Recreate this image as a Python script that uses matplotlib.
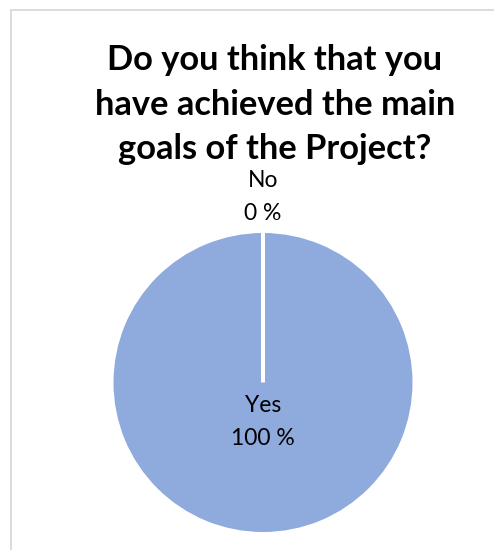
import matplotlib
matplotlib.use("Agg")
import matplotlib.pyplot as plt
from matplotlib.patches import Rectangle
from matplotlib.transforms import ScaledTranslation
import numpy as np

# Survey answers
categories = ["No", "Yes"]
percentages = [0, 100]
title_lines = ["Do you think that you", "have achieved the main", "goals of the Project?"]

W, H = 494, 550
DPI = 100
FONT = "Lato"

fig = plt.figure(figsize=(W / DPI, H / DPI), dpi=DPI)
fig.patch.set_facecolor("white")
renderer = fig.canvas.get_renderer()


def px(x, y):
    """Pixel coordinates (origin top-left) -> figure fraction."""
    return x / W, 1 - y / H


def fit_size(text, width_px, weight="normal", start=20.0):
    t = fig.text(0, 0, text, fontsize=start, family=FONT, weight=weight)
    w = t.get_window_extent(renderer).width
    t.remove()
    return start * width_px / w


# Chart-area frame (runs off the right and bottom edges)
fig.add_artist(Rectangle(px(11, 560), (W + 20) / W, (560 - 10) / H,
                         transform=fig.transFigure, fill=False,
                         edgecolor="#D9D9D9", linewidth=1.3))

# Title
tsize = fit_size(title_lines[1], 360, weight="bold")
for line, base in zip(title_lines, [70, 115, 159]):
    fig.text(*px(275, base), line, ha="center", va="baseline",
             fontsize=tsize, family=FONT, weight="bold", color="black")

# Pie
cx, cy, r = 263, 382.5, 149.5
ax = fig.add_axes([(cx - r) / W, (H - cy - r) / H, 2 * r / W, 2 * r / H])

lw_px = 4
wedges, _ = ax.pie(percentages[::-1], startangle=90, counterclock=False,
                   colors=["#8FAADC", "#8FAADC"], radius=1 + (lw_px / 2) / r,
                   wedgeprops=dict(edgecolor="white", linewidth=lw_px * 72 / DPI))
ax.set_xlim(-1, 1)
ax.set_ylim(-1, 1)
ax.set_aspect("equal")
ax.axis("off")

# Data labels: category name above, percentage below
lsize = 16.5
half_gap = 16.5 / DPI  # inches between anchor and each baseline
label_dist = {"Yes": 0.31, "No": 1.194}
for wdg, cat, val in zip(wedges, categories[::-1], percentages[::-1]):
    ang = np.deg2rad((wdg.theta1 + wdg.theta2) / 2)
    d = label_dist[cat]
    x, y = d * np.cos(ang), d * np.sin(ang)
    for txt, dy in ((cat, half_gap), (f"{val} %", -half_gap)):
        ax.text(x, y, txt, ha="center", va="baseline", fontsize=lsize,
                family=FONT, color="black", clip_on=False,
                transform=ax.transData + ScaledTranslation(0, dy, fig.dpi_scale_trans))

fig.savefig("out.png", dpi=DPI, facecolor="white")
